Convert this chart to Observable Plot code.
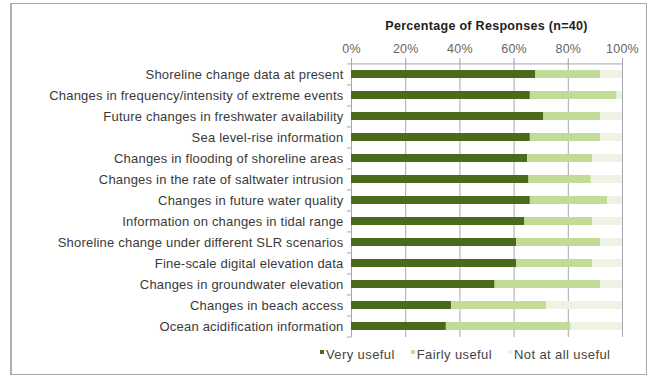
<!DOCTYPE html>
<html>
<head>
<meta charset="utf-8">
<script src="https://cdn.jsdelivr.net/npm/d3@7"></script>
<script src="https://cdn.jsdelivr.net/npm/@observablehq/plot@0.6"></script>
<style>
  html, body { margin: 0; padding: 0; background: #fff; }
  #wrap { position: relative; width: 654px; height: 377px; font-family: "Liberation Sans", Arial, sans-serif; overflow: hidden; }
  #border { position: absolute; left: 10px; top: 3px; width: 637px; height: 372px; border: 1px solid #a8a8a8; border-left: 2px solid #b0b0b0; box-sizing: border-box; pointer-events: none; }
  #title { position: absolute; left: 351px; width: 271px; top: 19px; text-align: center; font-weight: bold; font-size: 12.5px; letter-spacing: 0.3px; color: #222; }
  #legend { position: absolute; left: 320px; top: 347px; font-size: 13px; letter-spacing: 0.4px; color: #444; white-space: nowrap; }
  #legend span.item { margin-right: 16px; }
  #legend span.sw { display: inline-block; width: 4px; height: 4px; margin-right: 2px; vertical-align: 5px; }
  #chart { position: absolute; left: 0; top: 0; }
  #chart svg text { letter-spacing: 0.2px; }
</style>
</head>
<body>
<div id="wrap">
  <div id="chart"></div>
  <div id="title">Percentage of Responses (n=40)</div>
  <div id="legend"></div>
  <div id="border"></div>
</div>
<script>
const categories = [
  "Shoreline change data at present",
  "Changes in frequency/intensity of extreme events",
  "Future changes in freshwater availability",
  "Sea level-rise information",
  "Changes in flooding of shoreline areas",
  "Changes in the rate of saltwater intrusion",
  "Changes in future water quality",
  "Information on changes in tidal range",
  "Shoreline change under different SLR scenarios",
  "Fine-scale digital elevation data",
  "Changes in groundwater elevation",
  "Changes in beach access",
  "Ocean acidification information"
];
const veryUseful   = [68, 66, 71, 66, 65, 65.5, 66, 64, 61, 61, 53, 37, 35];
const fairlyUseful = [24, 32, 21, 26, 24, 23, 28.5, 25, 31, 28, 39, 35, 46];
const notAtAll     = [8, 2, 8, 8, 11, 11.5, 5.5, 11, 8, 11, 8, 28, 19];
const levels = ["Very useful", "Fairly useful", "Not at all useful"];
const colors = ["#4a6a1c", "#c2dc98", "#ecf3e2"];
const xTicks = [0, 20, 40, 60, 80, 100];

const series = [veryUseful, fairlyUseful, notAtAll];
const rows = [];
categories.forEach((c, i) => {
  levels.forEach((l, j) => rows.push({category: c, level: l, value: series[j][i]}));
});

const chart = Plot.plot({
  width: 654,
  height: 377,
  marginTop: 62,
  marginBottom: 40,
  marginLeft: 351,
  marginRight: 32,
  style: {fontFamily: "Liberation Sans, Arial, sans-serif", background: "transparent"},
  x: {domain: [0, 100], axis: null, label: null},
  y: {domain: categories, paddingInner: 0.62, paddingOuter: 0.31, axis: null, label: null},
  color: {domain: levels, range: colors},
  marks: [
    Plot.ruleX(xTicks, {stroke: "#a6a7b0", strokeWidth: 1}),
    Plot.barX(rows, Plot.stackX({y: "category", x: "value", fill: "level", order: null})),
    Plot.ruleY([categories[0]], {dy: -10.58, stroke: "#a6a7b0"}),
    Plot.ruleY(categories, {x1: -1.5, x2: 0, dy: -10.58, stroke: "#a6a7b0"}),
    Plot.ruleY([categories[categories.length - 1]], {x1: -1.5, x2: 0, dy: 10.58, stroke: "#a6a7b0"}),
    Plot.axisX(xTicks, {anchor: "top", label: null, tickSize: 5, tickPadding: 5, tickFormat: d => d + "%", fontSize: 12.5, color: "#666", stroke: "#a6a7b0"}),
    Plot.axisY({anchor: "left", label: null, tickSize: 0, tickPadding: 8, fontSize: 13, color: "#3a3a3a"})
  ]
});
document.getElementById("chart").appendChild(chart);

const legend = document.getElementById("legend");
levels.forEach((l, j) => {
  const item = document.createElement("span");
  item.className = "item";
  const sw = document.createElement("span");
  sw.className = "sw";
  sw.style.background = colors[j];
  item.appendChild(sw);
  item.appendChild(document.createTextNode(l));
  legend.appendChild(item);
});
</script>
</body>
</html>
